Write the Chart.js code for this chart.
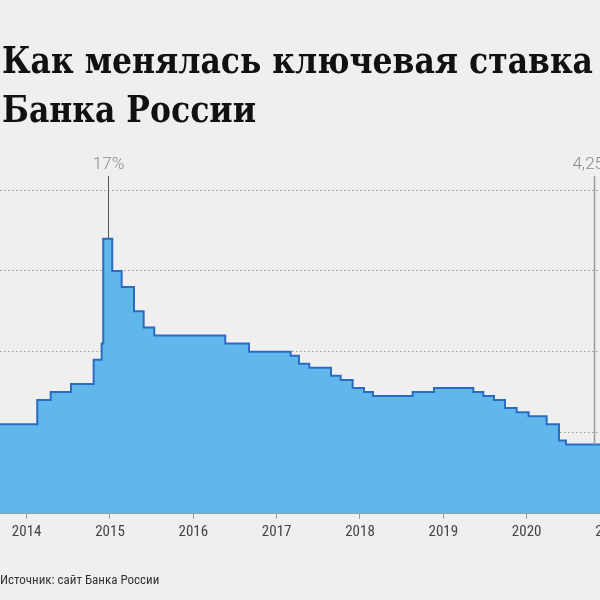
<!DOCTYPE html>
<html lang="ru">
<head>
<meta charset="utf-8">
<script src="https://cdn.jsdelivr.net/npm/chart.js@4"></script>
<style>
  html, body { margin: 0; padding: 0; }
  body { width: 600px; height: 600px; overflow: hidden; background: #efefef; position: relative; }
  #wrap { position: absolute; left: 0; top: 0; width: 700px; height: 600px; }
</style>
</head>
<body>
<div id="wrap"><canvas id="rateChart" width="700" height="600"></canvas></div>
<script>
// Key rate of the Bank of Russia (fractional years)
const changeDates = [
  2013.6, 2014.127, 2014.288, 2014.532, 2014.804, 2014.9, 2014.919, 2015.027,
  2015.14, 2015.288, 2015.404, 2015.531, 2016.383, 2016.668, 2017.168, 2017.268,
  2017.391, 2017.652, 2017.768, 2017.912, 2018.048, 2018.156, 2018.632, 2018.888,
  2019.36, 2019.48, 2019.608, 2019.74, 2019.88, 2020.024, 2020.24, 2020.388,
  2020.472, 2021.3,
];
const rates = [
  5.5, 7, 7.5, 8, 9.5, 10.5, 17, 15,
  14, 12.5, 11.5, 11, 10.5, 10, 9.75, 9.25,
  9, 8.5, 8.25, 7.75, 7.5, 7.25, 7.5, 7.75,
  7.5, 7.25, 7, 6.5, 6.25, 6, 5.5, 4.5,
  4.25, 4.25,
];
const yearTicks = [2014, 2015, 2016, 2017, 2018, 2019, 2020, 2021];
const gridValues = [5, 10, 15, 20];

// callouts
const noteX = [2014.973, 2020.808];
const noteY = [17, 4.25];
const noteText = ["17%", "4,25%"];
const noteColor = ["#555555", "#9a9a9a"];

const title = ["Как менялась ключевая ставка", "Банка России"];
const source = "Источник: сайт Банка России";

const narrow = "'Liberation Sans Narrow', 'Roboto Condensed', Roboto, sans-serif";

const points = changeDates.map((d, i) => ({ x: d, y: rates[i] }));

const decorations = {
  id: "decorations",
  beforeDraw(chart) {
    const ctx = chart.ctx;
    ctx.save();
    ctx.fillStyle = "#efefef";
    ctx.fillRect(0, 0, chart.width, chart.height);
    ctx.restore();
  },
  afterDraw(chart) {
    const ctx = chart.ctx;
    const xs = chart.scales.x;
    const ys = chart.scales.y;
    ctx.save();
    noteX.forEach((nx, i) => {
      const px = Math.round(xs.getPixelForValue(nx)) + 0.5;
      const py = ys.getPixelForValue(noteY[i]);
      ctx.strokeStyle = noteColor[i];
      ctx.lineWidth = i === 0 ? 1 : 1.5;
      ctx.beginPath();
      ctx.moveTo(px, 176);
      ctx.lineTo(px, py);
      ctx.stroke();
      ctx.fillStyle = "#8a8a8a";
      ctx.font = "300 17px Roboto, sans-serif";
      ctx.textAlign = "center";
      ctx.textBaseline = "alphabetic";
      ctx.fillText(noteText[i], px, 169);
    });

    // title, squeezed so the first line ends where the reference does
    ctx.fillStyle = "#111111";
    ctx.font = "bold 37px 'DejaVu Serif', serif";
    ctx.textAlign = "left";
    const squeeze = 591 / ctx.measureText(title[0]).width;
    ctx.save();
    ctx.translate(2, 0);
    ctx.scale(squeeze, 1);
    ctx.fillText(title[0], 0, 73);
    ctx.fillText(title[1], 0, 122);
    ctx.restore();

    ctx.fillStyle = "#333333";
    ctx.font = "13px " + narrow;
    ctx.fillText(source, 0, 584);
    ctx.restore();
  },
};

new Chart(document.getElementById("rateChart"), {
  type: "line",
  data: {
    datasets: [
      {
        data: points,
        stepped: "before",
        borderColor: "#2b6cc2",
        borderWidth: 2,
        backgroundColor: "#5fb7ec",
        fill: "origin",
        pointRadius: 0,
        tension: 0,
      },
    ],
  },
  options: {
    responsive: false,
    animation: false,
    layout: { padding: { top: 158, bottom: 47, left: 0, right: 0 } },
    plugins: { legend: { display: false }, tooltip: { enabled: false } },
    scales: {
      x: {
        type: "linear",
        min: 2013.68,
        max: 2013.68 + 700 / 83.33,
        afterBuildTicks(scale) {
          scale.ticks = yearTicks.map((v) => ({ value: v }));
        },
        afterFit(scale) {
          scale.height = 40;
        },
        z: 1,
        border: { display: true, color: "#9a9a9a", width: 1 },
        grid: { drawOnChartArea: false, drawTicks: true, tickLength: 6, color: "#9a9a9a" },
        ticks: {
          color: "#444444",
          font: { family: narrow, size: 15 },
          padding: 4,
          maxRotation: 0,
          autoSkip: false,
          callback: (v) => String(v),
        },
      },
      y: {
        min: 0,
        max: 22,
        z: 1,
        afterBuildTicks(scale) {
          scale.ticks = gridValues.map((v) => ({ value: v }));
        },
        afterFit(scale) {
          scale.width = 0;
        },
        border: { display: false, dash: [1.5, 2.5] },
        grid: { color: "rgba(0,0,0,0.35)", drawTicks: false, lineWidth: 1 },
        ticks: { display: false },
      },
    },
  },
  plugins: [decorations],
});
</script>
</body>
</html>
